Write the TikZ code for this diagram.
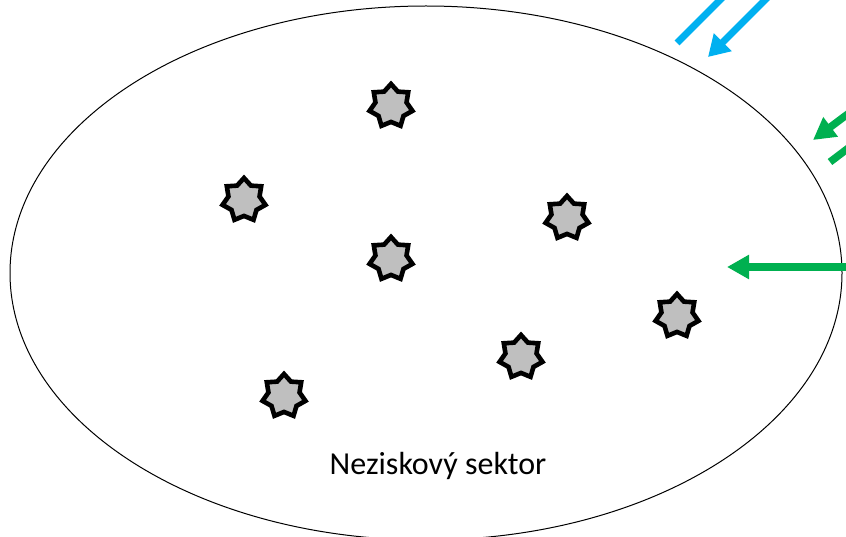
\documentclass[tikz,border=0pt]{standalone}
\usepackage{fontspec}
\setmainfont{Carlito}
\usetikzlibrary{shapes.geometric,arrows.meta}
\definecolor{skyblue}{HTML}{00B0F0}
\definecolor{grn}{HTML}{00B050}
\definecolor{stargray}{HTML}{BFBFBF}
\tikzset{
  org/.style={star, star points=7, star point ratio=1.38, minimum size=44pt, inner sep=0pt,
    draw=black, line width=4.6pt, line join=miter, fill=stargray},
  bluearr/.style={draw=skyblue, line width=7pt},
  grnarr/.style={draw=grn, line width=7.5pt},
  tipb/.style={-{Triangle[length=21pt,width=24pt]}},
  tipg/.style={-{Triangle[length=22pt,width=23pt]}}
}
\begin{document}
\begin{tikzpicture}[x=1pt,y=-1pt]
\useasboundingbox (0,0) rectangle (846,537);
\clip (0,0) rectangle (846,537);
\node[draw=black, line width=1pt, ellipse, minimum width=832pt, minimum height=534pt, inner sep=0pt] (sector) at (426,273) {};
\node[anchor=center, font=\fontsize{32}{36}\selectfont] (label) at (438,466) {Neziskový sektor};
\node[org] (s1) at (391,106) {};
\node[org] (s2) at (244,200) {};
\node[org] (s3) at (567,218) {};
\node[org] (s4) at (391,259) {};
\node[org] (s5) at (677,316) {};
\node[org] (s6) at (521,357) {};
\node[org] (s7) at (284,396) {};
% blue arrows
\coordinate (b1s) at (740,-20);
\coordinate (b1e) at (677,43);
\coordinate (b2s) at (787,-22);
\coordinate (b2e) at (708,57);
\draw[bluearr] (b1s) -- (b1e);
\draw[bluearr, tipb] (b2s) -- (b2e);
% green arrows
\coordinate (g1s) at (880,90);
\coordinate (g1e) at (813,140);
\coordinate (g2s) at (880,124);
\coordinate (g2e) at (830,162);
\coordinate (g3s) at (880,267);
\coordinate (g3e) at (727,267);
\draw[grnarr, tipg] (g1s) -- (g1e);
\draw[grnarr] (g2s) -- (g2e);
\draw[grnarr, tipg] (g3s) -- (g3e);
\end{tikzpicture}
\end{document}
